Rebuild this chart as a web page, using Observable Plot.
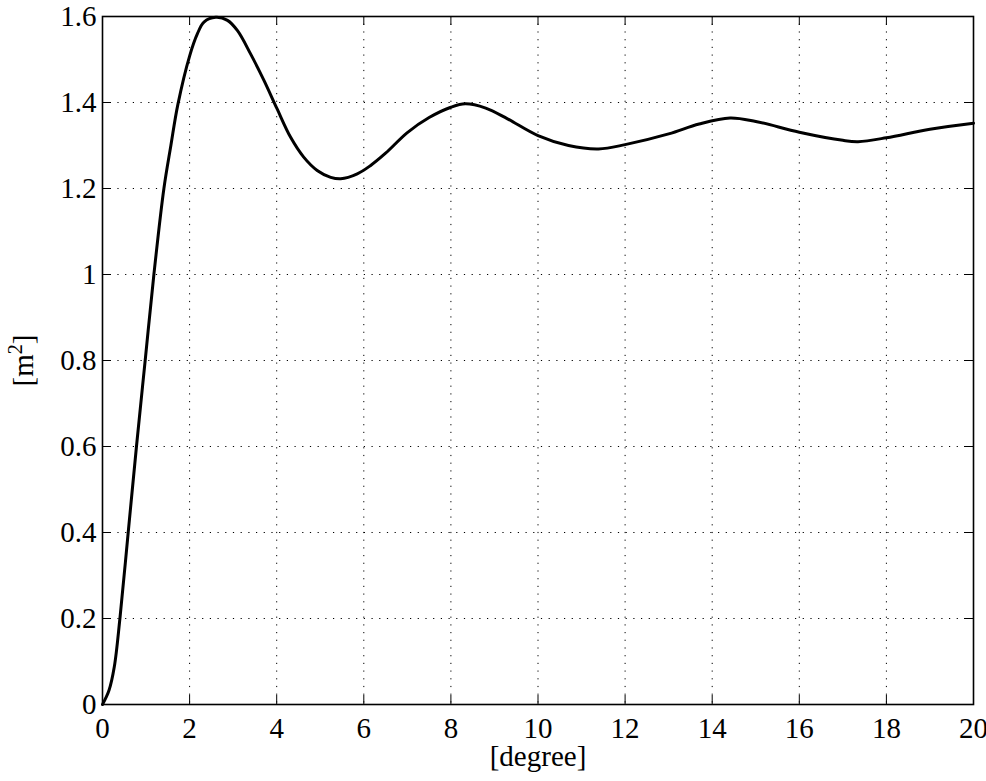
<!DOCTYPE html>
<html>
<head>
<meta charset="utf-8">
<script src="https://cdn.jsdelivr.net/npm/d3@7"></script>
<script src="https://cdn.jsdelivr.net/npm/@observablehq/plot@0.6"></script>
<style>
  html, body { margin: 0; padding: 0; background: #fff; overflow: hidden; }
  #chart { width: 986px; height: 781px; }
</style>
</head>
<body>
<div id="chart"></div>
<script>
const degree = [0, 0.15, 0.27, 0.4, 0.59, 0.78, 0.98, 1.18, 1.41, 1.57, 1.73, 2.0, 2.18, 2.33, 2.6, 2.87, 3.1, 3.4, 3.71, 4.01, 4.32, 4.62, 4.93, 5.24, 5.47, 5.85, 6.15, 6.5, 7.0, 7.5, 8.0, 8.33, 8.8, 9.3, 10.0, 10.7, 11.39, 12.0, 13.0, 13.7, 14.41, 15.0, 16.0, 17.0, 17.35, 18.0, 19.0, 20.0];
const area   = [0, 0.033, 0.087, 0.2, 0.4, 0.6, 0.8, 1.0, 1.2, 1.3, 1.395, 1.508, 1.56, 1.587, 1.598, 1.591, 1.567, 1.513, 1.451, 1.385, 1.319, 1.273, 1.242, 1.226, 1.2225, 1.234, 1.253, 1.282, 1.33, 1.365, 1.389, 1.397, 1.387, 1.362, 1.323, 1.300, 1.292, 1.302, 1.327, 1.35, 1.364, 1.356, 1.331, 1.312, 1.309, 1.318, 1.338, 1.352];
const xTicks = [0, 2, 4, 6, 8, 10, 12, 14, 16, 18, 20];
const yTicks = [0, 0.2, 0.4, 0.6, 0.8, 1, 1.2, 1.4, 1.6];
const yTickLabels = ["0", "0.2", "0.4", "0.6", "0.8", "1", "1.2", "1.4", "1.6"];
const xLabel = "[degree]";
const yLabel = "[m2]";

const data = degree.map((d, i) => ({x: d, y: area[i]}));
const font = "'Liberation Serif', 'Times New Roman', serif";
const W = 986, H = 781, mL = 102, mR = 13, mT = 16, mB = 77;
const tickLen = 9;
const innerW = W - mL - mR, innerH = H - mT - mB;
const dots = {stroke: "black", strokeOpacity: 1, strokeWidth: 1, strokeDasharray: "1.2,6.5"};

const chart = Plot.plot({
  width: W,
  height: H,
  marginLeft: mL,
  marginRight: mR,
  marginTop: mT,
  marginBottom: mB,
  style: {fontFamily: font, fontSize: "29px", color: "black", background: "white", overflow: "visible"},
  x: {domain: [0, 20], ticks: xTicks},
  y: {domain: [0, 1.6], ticks: yTicks},
  marks: [
    Plot.gridX(xTicks, dots),
    Plot.gridY(yTicks, dots),
    // inward ticks on all four sides (MATLAB box style)
    Plot.ruleX(xTicks, {x: d => d, stroke: "black", strokeWidth: 1, insetTop: innerH - tickLen}),
    Plot.ruleX(xTicks, {x: d => d, stroke: "black", strokeWidth: 1, insetBottom: innerH - tickLen}),
    Plot.ruleY(yTicks, {y: d => d, stroke: "black", strokeWidth: 1, insetRight: innerW - tickLen}),
    Plot.ruleY(yTicks, {y: d => d, stroke: "black", strokeWidth: 1, insetLeft: innerW - tickLen}),
    Plot.axisX(xTicks, {anchor: "bottom", tickSize: 0, tickPadding: 13, fontSize: 29,
      label: xLabel, labelAnchor: "center", labelArrow: "none", labelOffset: 61}),
    Plot.axisY(yTicks, {anchor: "left", tickSize: 0, tickPadding: 6, fontSize: 29,
      tickFormat: (d, i) => yTickLabels[i],
      label: yLabel, labelAnchor: "center", labelArrow: "none", labelOffset: 90}),
    Plot.frame({stroke: "black", strokeWidth: 1.6}),
    Plot.line(data, {x: "x", y: "y", curve: "catmull-rom", stroke: "black", strokeWidth: 3})
  ]
});
document.getElementById("chart").appendChild(chart);

// render the "2" of the y label as a real superscript
chart.querySelectorAll("text").forEach(t => {
  if (t.textContent === yLabel) {
    const target = t.querySelector("tspan") || t;
    target.textContent = "";
    const ns = "http://www.w3.org/2000/svg";
    const a = document.createElementNS(ns, "tspan"); a.textContent = "[m";
    const s = document.createElementNS(ns, "tspan"); s.textContent = "2";
    s.setAttribute("font-size", "20"); s.setAttribute("dy", "-11");
    const b = document.createElementNS(ns, "tspan"); b.textContent = "]"; b.setAttribute("dy", "11");
    target.appendChild(a); target.appendChild(s); target.appendChild(b);
  }
});
</script>
</body>
</html>
